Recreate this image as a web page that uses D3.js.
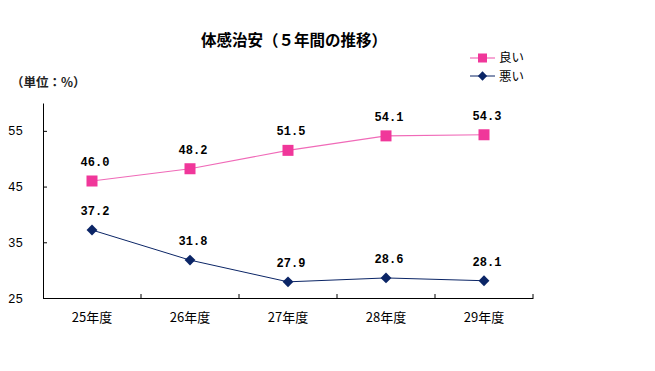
<!DOCTYPE html>
<html>
<head>
<meta charset="utf-8">
<script src="https://cdn.jsdelivr.net/npm/d3@7"></script>
<style>
  body { margin: 0; background: #fff; }
  svg { display: block; }
</style>
</head>
<body>
<script>
// chart data
var categories = ["25年度", "26年度", "27年度", "28年度", "29年度"];
var goodValues = [46.0, 48.2, 51.5, 54.1, 54.3];
var badValues = [37.2, 31.8, 27.9, 28.6, 28.1];
var yTicks = [25, 35, 45, 55];
var seriesNames = ["良い", "悪い"];

var width = 655, height = 371;
var pink = "#f0379a", pinkLine = "#f06ab8";
var navy = "#0b2566";

var svg = d3.select("body").append("svg")
    .attr("width", width)
    .attr("height", height);

svg.append("rect").attr("width", width).attr("height", height).attr("fill", "#fff");

var x = d3.scaleBand().domain(categories).range([43, 533]);
var y = d3.scaleLinear().domain([25, 60]).range([298, 103]);

function cx(d, i) { return x(categories[i]) + x.bandwidth() / 2; }

// title + unit
svg.append("text")
    .attr("x", 294).attr("y", 46)
    .attr("text-anchor", "middle")
    .attr("font-family", "Noto Sans CJK JP")
    .attr("font-size", 15.5).attr("font-weight", "bold")
    .text("体感治安（５年間の推移）");

svg.append("text")
    .attr("x", 11).attr("y", 87)
    .attr("font-family", "Noto Sans CJK JP")
    .attr("font-size", 12.5).attr("font-weight", "bold")
    .attr("fill", "#222")
    .text("（単位：%）");

// y axis
var yAxis = d3.axisLeft(y)
    .tickValues(yTicks)
    .tickSizeInner(-4)
    .tickSizeOuter(0)
    .tickPadding(20);

var gy = svg.append("g")
    .attr("transform", "translate(43,0)")
    .call(yAxis);
gy.select(".domain").attr("stroke", "#000");
gy.selectAll(".tick line").attr("stroke", "#000");
gy.selectAll("text")
    .attr("font-family", "Liberation Mono")
    .attr("font-size", 12.5)
    .attr("fill", "#000");

// x axis (labels only, ticks at band edges)
var xAxis = d3.axisBottom(x).tickSize(0).tickPadding(15);
var gx = svg.append("g")
    .attr("transform", "translate(0,298)")
    .call(xAxis);
gx.select(".domain").attr("stroke", "#000");
gx.selectAll("text")
    .attr("font-family", "Noto Sans CJK JP")
    .attr("font-size", 13)
    .attr("fill", "#000");

gx.selectAll("line.edge")
    .data(categories)
    .enter()
    .append("line")
    .attr("class", "edge")
    .attr("x1", function (d) { return x(d) + x.bandwidth(); })
    .attr("x2", function (d) { return x(d) + x.bandwidth(); })
    .attr("y1", 0).attr("y2", -4)
    .attr("stroke", "#000");

// lines
var line = d3.line().x(cx).y(function (d) { return y(d); });

svg.append("path")
    .attr("d", line(goodValues))
    .attr("fill", "none")
    .attr("stroke", pinkLine)
    .attr("stroke-width", 1.2);

svg.append("path")
    .attr("d", line(badValues))
    .attr("fill", "none")
    .attr("stroke", navy)
    .attr("stroke-width", 1);

// markers
svg.selectAll("rect.good")
    .data(goodValues)
    .enter()
    .append("rect")
    .attr("class", "good")
    .attr("x", function (d, i) { return cx(d, i) - 5.5; })
    .attr("y", function (d) { return y(d) - 5.5; })
    .attr("width", 11).attr("height", 11)
    .attr("fill", pink);

var diamond = d3.symbol().type(d3.symbolDiamond2).size(75);

svg.selectAll("path.bad")
    .data(badValues)
    .enter()
    .append("path")
    .attr("class", "bad")
    .attr("d", diamond)
    .attr("transform", function (d, i) { return "translate(" + cx(d, i) + "," + y(d) + ")"; })
    .attr("fill", navy);

// value labels
function addLabels(values, cls) {
    svg.selectAll("text." + cls)
        .data(values)
        .enter()
        .append("text")
        .attr("class", cls)
        .attr("x", function (d, i) { return cx(d, i) + 3; })
        .attr("y", function (d) { return y(d) - 15; })
        .attr("text-anchor", "middle")
        .attr("font-family", "Liberation Mono")
        .attr("font-size", 12)
        .attr("font-weight", "bold")
        .attr("fill", "#000")
        .text(function (d) { return d.toFixed(1); });
}
addLabels(goodValues, "glab");
addLabels(badValues, "blab");

// legend
var legend = svg.append("g");
legend.append("line")
    .attr("x1", 470).attr("x2", 495).attr("y1", 58).attr("y2", 58)
    .attr("stroke", pinkLine).attr("stroke-width", 1.2);
legend.append("rect")
    .attr("x", 478).attr("y", 53.5).attr("width", 9).attr("height", 9)
    .attr("fill", pink);
legend.append("line")
    .attr("x1", 470).attr("x2", 495).attr("y1", 76).attr("y2", 76)
    .attr("stroke", navy);
legend.append("path")
    .attr("d", d3.symbol().type(d3.symbolDiamond2).size(55))
    .attr("transform", "translate(482.5,76)")
    .attr("fill", navy);

legend.selectAll("text")
    .data(seriesNames)
    .enter()
    .append("text")
    .attr("x", 499)
    .attr("y", function (d, i) { return 62 + i * 18.5; })
    .attr("font-family", "Noto Sans CJK JP")
    .attr("font-size", 12.5)
    .attr("fill", "#000")
    .text(function (d) { return d; });
</script>
</body>
</html>
